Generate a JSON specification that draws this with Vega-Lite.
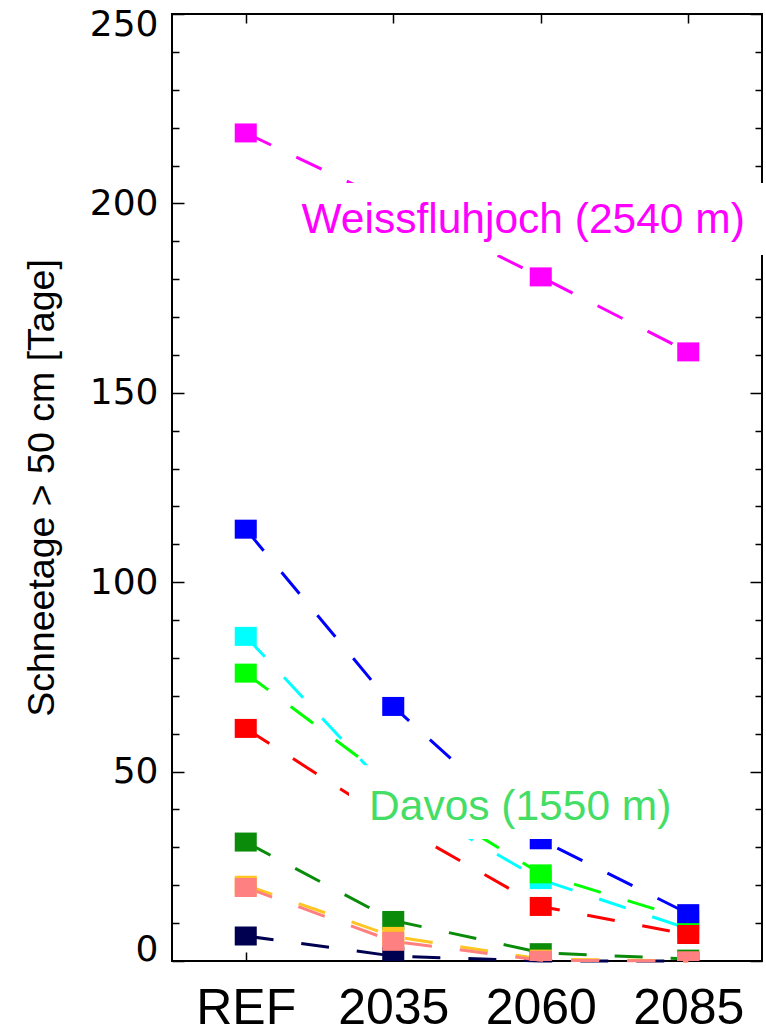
{
  "$schema": "https://vega.github.io/schema/vega-lite/v6.json",
  "width": 590,
  "height": 947,
  "autosize": {"type": "none"},
  "padding": {"left": 172, "top": 14, "right": 4, "bottom": 72},
  "background": "white",
  "config": {
    "view": {"stroke": "black", "strokeWidth": 2}
  },
  "datasets": {
    "obs": [
      {"series": "Station C", "period": "REF", "value": 85.7},
      {"series": "Station C", "period": "2035", "value": 44},
      {"series": "Station C", "period": "2060", "value": 21.5},
      {"series": "Station C", "period": "2085", "value": 8.5},
      {"series": "Davos", "period": "REF", "value": 76},
      {"series": "Davos", "period": "2035", "value": 47},
      {"series": "Davos", "period": "2060", "value": 23},
      {"series": "Davos", "period": "2085", "value": 11},
      {"series": "Station B", "period": "REF", "value": 114},
      {"series": "Station B", "period": "2035", "value": 67.2},
      {"series": "Station B", "period": "2060", "value": 32},
      {"series": "Station B", "period": "2085", "value": 12.5},
      {"series": "Station D", "period": "REF", "value": 61.4},
      {"series": "Station D", "period": "2035", "value": 36.5},
      {"series": "Station D", "period": "2060", "value": 14.4},
      {"series": "Station D", "period": "2085", "value": 7},
      {"series": "Station E", "period": "REF", "value": 31.4},
      {"series": "Station E", "period": "2035", "value": 10.7},
      {"series": "Station E", "period": "2060", "value": 2.2},
      {"series": "Station E", "period": "2085", "value": 0.5},
      {"series": "Station H", "period": "REF", "value": 6.6},
      {"series": "Station H", "period": "2035", "value": 1.3},
      {"series": "Station H", "period": "2060", "value": 0},
      {"series": "Station H", "period": "2085", "value": 0},
      {"series": "Station F", "period": "REF", "value": 20},
      {"series": "Station F", "period": "2035", "value": 6.5},
      {"series": "Station F", "period": "2060", "value": 0.5},
      {"series": "Station F", "period": "2085", "value": 0},
      {"series": "Station G", "period": "REF", "value": 19.4},
      {"series": "Station G", "period": "2035", "value": 5.2},
      {"series": "Station G", "period": "2060", "value": 0.2},
      {"series": "Station G", "period": "2085", "value": 0},
      {"series": "Weissfluhjoch", "period": "REF", "value": 218.6},
      {"series": "Weissfluhjoch", "period": "2035", "value": 200},
      {"series": "Weissfluhjoch", "period": "2060", "value": 180.6},
      {"series": "Weissfluhjoch", "period": "2085", "value": 160.8}
    ],
    "labels": [
      {"label": "Weissfluhjoch (2540 m)", "color": "W"},
      {"label": "Davos (1550 m)", "color": "D"}
    ]
  },
  "layer": [
    {
      "data": {"name": "obs"},
      "encoding": {
        "x": {
          "field": "period",
          "type": "ordinal",
          "sort": null,
          "scale": {"type": "point", "padding": 0.5, "domain": ["REF", "2035", "2060", "2085"]},
          "axis": {
            "title": null,
            "labelAngle": 0,
            "labelFont": "Liberation Sans",
            "labelFontSize": 50,
            "labelColor": "black",
            "labelBaseline": "alphabetic",
            "labelPadding": 62,
            "ticks": false,
            "tickSize": 0,
            "domain": false,
            "grid": true,
            "gridColor": "black",
            "gridOpacity": 1,
            "gridWidth": 1.5,
            "gridDash": [9, 929, 9, 0]
          }
        },
        "y": {
          "field": "value",
          "type": "quantitative",
          "scale": {"domain": [0, 250], "nice": false, "zero": true},
          "axis": {
            "values": [0, 50, 100, 150, 200, 250],
            "labelOverlap": false,
            "labelFont": "DejaVu Sans",
            "labelFontSize": 36,
            "labelColor": "black",
            "labelPadding": 14,
            "labelFlush": true,
            "labelFlushOffset": 7,
            "ticks": false,
            "tickSize": 0,
            "domain": false,
            "grid": true,
            "gridColor": "black",
            "gridOpacity": 1,
            "gridWidth": 1.5,
            "gridDash": [12, 566, 12, 0],
            "title": "Schneetage > 50 cm [Tage]",
            "titleFont": "Liberation Sans",
            "titleFontSize": 37.5,
            "titleFontWeight": "normal",
            "titleColor": "black",
            "titleX": -119,
            "titleBaseline": "alphabetic"
          }
        },
        "color": {
          "field": "series",
          "type": "nominal",
          "scale": {
            "domain": ["Station C", "Davos", "Station B", "Station D", "Station E", "Station H", "Station F", "Station G", "Weissfluhjoch"],
            "range": ["#00ffff", "#00ff00", "#0000ff", "#ff0000", "#0a8c0a", "#000050", "#ffc520", "#ff8080", "#ff00ff"]
          },
          "legend": null
        }
      },
      "layer": [
        {"mark": {"type": "line", "strokeWidth": 3, "strokeDash": [28, 28]}},
        {"mark": {"type": "point", "filled": true, "opacity": 1, "shape": "M-1.16,-1H1.16V1H-1.16Z", "size": 361, "clip": true}}
      ]
    },
    {
      "data": {"name": "labels"},
      "layer": [
        {
          "transform": [{"filter": "datum.color === 'W'"}],
          "mark": {"type": "rect", "fill": "white"},
          "encoding": {
            "x": {"datum": 0.31, "type": "quantitative", "scale": {"domain": [-0.5, 3.5]}, "axis": null},
            "x2": {"datum": 3.56},
            "y": {
              "datum": 186.4,
              "type": "quantitative",
              "scale": {"domain": [0, 250], "nice": false},
              "axis": {
                "orient": "right",
                "values": [10, 20, 30, 40, 60, 70, 80, 90, 110, 120, 130, 140, 160, 170, 180, 190, 210, 220, 230, 240],
                "labels": false,
                "ticks": false,
                "tickSize": 0,
                "domain": false,
                "title": null,
                "grid": true,
                "gridColor": "black",
                "gridOpacity": 1,
                "gridWidth": 1.5,
                "gridDash": [7, 576, 7, 0]
              }
            },
            "y2": {"datum": 205.4}
          }
        },
        {
          "transform": [{"filter": "datum.color === 'W'"}],
          "mark": {"type": "text", "align": "left", "baseline": "alphabetic", "font": "Liberation Sans", "fontSize": 42.5, "color": "#ff00ff"},
          "encoding": {
            "x": {"datum": 0.378, "type": "quantitative"},
            "y": {"datum": 192.2, "type": "quantitative"},
            "text": {"field": "label"}
          }
        },
        {
          "transform": [{"filter": "datum.color === 'D'"}],
          "mark": {"type": "rect", "fill": "white"},
          "encoding": {
            "x": {"datum": 0.70, "type": "quantitative"},
            "x2": {"datum": 3.05},
            "y": {"datum": 32.2, "type": "quantitative"},
            "y2": {"datum": 51.7}
          }
        },
        {
          "transform": [{"filter": "datum.color === 'D'"}],
          "mark": {"type": "text", "align": "left", "baseline": "alphabetic", "font": "Liberation Sans", "fontSize": 42.5, "color": "#44dd66"},
          "encoding": {
            "x": {"datum": 0.836, "type": "quantitative"},
            "y": {"datum": 37.2, "type": "quantitative"},
            "text": {"field": "label"}
          }
        }
      ]
    }
  ],
  "resolve": {"scale": {"x": "independent"}, "axis": {"x": "independent", "y": "independent"}}
}
